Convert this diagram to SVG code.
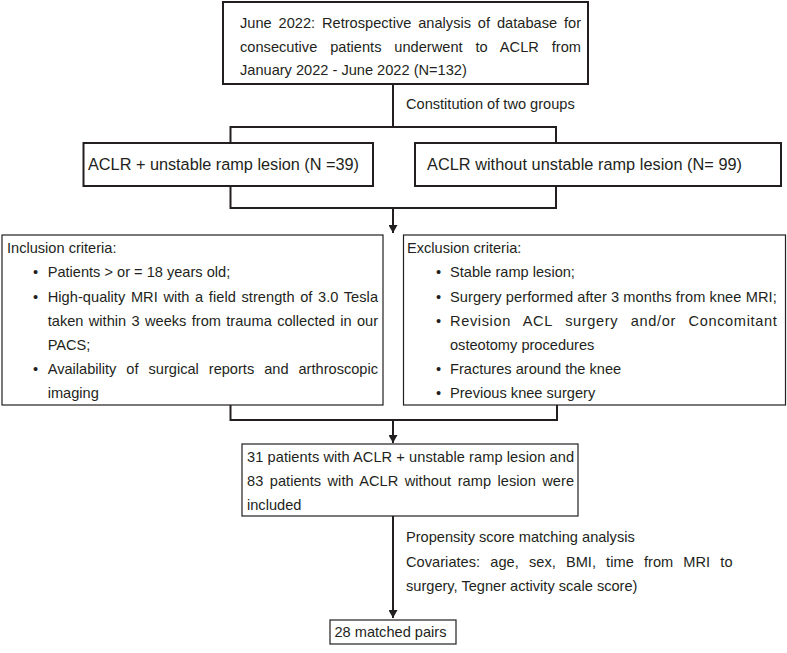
<svg xmlns="http://www.w3.org/2000/svg" width="787" height="653" viewBox="0 0 787 653">
<defs>
<style>
text{font-family:"Liberation Sans",Arial,Helvetica,sans-serif;font-size:14.6px;fill:#231f20}
.g{font-size:16.3px}
.thick{fill:#fff;stroke:#231f20;stroke-width:2}
.thin{fill:#fff;stroke:#231f20;stroke-width:1.2}
.ln{fill:none;stroke:#231f20;stroke-width:2}
</style>
<marker id="ah" viewBox="0 0 8 9" refX="8" refY="4.5" markerWidth="8" markerHeight="9" markerUnits="userSpaceOnUse" orient="auto">
<path d="M0,0 L8,4.5 L0,9 Z" fill="#231f20"/>
</marker>
</defs>
<rect width="787" height="653" fill="#fff"/>
<g id="connectors">
<line class="ln" x1="393" y1="84" x2="393" y2="127"/>
<polyline class="ln" points="230.5,143 230.5,127 556,127 556,143"/>
<polyline class="ln" points="230.5,186 230.5,208 556,208 556,186"/>
<line class="ln" x1="393" y1="208" x2="393" y2="233" marker-end="url(#ah)"/>
<polyline class="ln" points="230.5,405 230.5,420 557,420 557,405"/>
<line class="ln" x1="393" y1="420" x2="393" y2="443" marker-end="url(#ah)"/>
<line class="ln" x1="393" y1="516" x2="393" y2="618" marker-end="url(#ah)"/>
<text x="406" y="109">Constitution of two groups</text>
<text x="406" y="542">Propensity score matching analysis</text>
<text x="406" y="567" word-spacing="6" textLength="326.5" lengthAdjust="spacing">Covariates: age, sex, BMI, time from MRI to</text>
<text x="406" y="591">surgery, Tegner activity scale score)</text>
</g>
<g id="start">
<rect class="thick" x="223" y="2" width="365" height="82"/>
<text x="240" y="28" word-spacing="2.8" textLength="341" lengthAdjust="spacing">June 2022: Retrospective analysis of database for</text>
<text x="240" y="52" word-spacing="8.8" textLength="341" lengthAdjust="spacing">consecutive patients underwent to ACLR from</text>
<text x="240" y="75">January 2022 - June 2022 (N=132)</text>
</g>
<g id="group-ramp">
<rect class="thick" x="83.5" y="143" width="289.5" height="43"/>
<text class="g" x="88" y="170" textLength="271" lengthAdjust="spacing">ACLR + unstable ramp lesion (N =39)</text>
</g>
<g id="group-noramp">
<rect class="thick" x="415" y="143" width="366" height="43"/>
<text class="g" x="427" y="170" textLength="315" lengthAdjust="spacing">ACLR without unstable ramp lesion (N= 99)</text>
</g>
<g id="inclusion">
<rect class="thin" x="2" y="235" width="381" height="170"/>
<text x="7" y="253">Inclusion criteria:</text>
<text x="33" y="277">•</text>
<text x="47.7" y="277">Patients &gt; or = 18 years old;</text>
<text x="33" y="302">•</text>
<text x="47.7" y="302" word-spacing="1.5" textLength="330.3" lengthAdjust="spacing">High-quality MRI with a field strength of 3.0 Tesla</text>
<text x="47.7" y="326" word-spacing="1.3" textLength="330.3" lengthAdjust="spacing">taken within 3 weeks from trauma collected in our</text>
<text x="47.7" y="350">PACS;</text>
<text x="33" y="374">•</text>
<text x="47.7" y="374" word-spacing="5.9" textLength="330.3" lengthAdjust="spacing">Availability of surgical reports and arthroscopic</text>
<text x="47.7" y="398">imaging</text>
</g>
<g id="exclusion">
<rect class="thin" x="403.5" y="235" width="382" height="170"/>
<text x="407" y="253">Exclusion criteria:</text>
<text x="436" y="277">•</text>
<text x="450" y="277">Stable ramp lesion;</text>
<text x="436" y="302">•</text>
<text x="450" y="302" textLength="326.7" lengthAdjust="spacing">Surgery performed after 3 months from knee MRI;</text>
<text x="436" y="326">•</text>
<text x="450" y="326" word-spacing="8" textLength="326.7" lengthAdjust="spacing">Revision ACL surgery and/or Concomitant</text>
<text x="450" y="350">osteotomy procedures</text>
<text x="436" y="374">•</text>
<text x="450" y="374">Fractures around the knee</text>
<text x="436" y="398">•</text>
<text x="450" y="398">Previous knee surgery</text>
</g>
<g id="included">
<rect class="thin" x="242" y="444" width="336" height="72"/>
<text x="247" y="462" textLength="327" lengthAdjust="spacing">31 patients with ACLR + unstable ramp lesion and</text>
<text x="247" y="486" word-spacing="2.4" textLength="327" lengthAdjust="spacing">83 patients with ACLR without ramp lesion were</text>
<text x="247" y="510">included</text>
</g>
<g id="matched">
<rect class="thin" x="330" y="620" width="126" height="24"/>
<text x="334.5" y="637">28 matched pairs</text>
</g>
</svg>
